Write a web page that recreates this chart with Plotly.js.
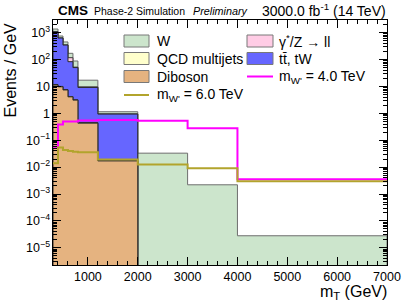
<!DOCTYPE html>
<html><head><meta charset="utf-8">
<script src="https://cdn.plot.ly/plotly-3.0.1.min.js"></script>
<style>html,body{margin:0;padding:0;background:#fff}#chart{width:407px;height:305px}</style>
</head><body><div id="chart"></div>
<script>
// ---- data (events / GeV per bin) ----
const binEdges = [300, 400, 500, 600, 700, 800, 1200, 2000, 3000, 4000, 7000];
const wJets    = [280, 115, 100, 53, 36, 7.4, 0.19, 0.033, 0.0022, 0.000028];
const dyZ      = [10, 5, 5, 34, 2, 0.5, 0.02, 0, 0, 0];
const qcd      = [0.5, 0.3, 0.2, 0.1, 0.1, 0.02, 0, 0, 0, 0];
const ttbar    = [1060, 620, 338, 79, 47, 8.7, 0.92, 0, 0, 0];
const diboson  = [11.3, 9.7, 7.4, 4.1, 3.1, 0.43, 0.017, 0, 0, 0];
const sigW4    = [0.057, 0.38, 0.50, 0.50, 0.50, 0.54, 0.56, 0.53, 0.28, 0.0035];
const sigW6    = [0.014, 0.054, 0.043, 0.040, 0.037, 0.036, 0.019, 0.0126, 0.0091, 0.0030];
const xTickVals = [1000, 2000, 3000, 4000, 5000, 6000, 7000];

// ---- styling ----
const FONT = 'Liberation Sans, Arial, Helvetica, sans-serif';
const Y_RANGE = [-5.64, 3.47];
const FLOOR = Math.pow(10, Y_RANGE[0] - 2);
const C = {
  w: 'rgb(204,229,204)', dy: 'rgb(255,204,229)', qcd: 'rgb(255,255,204)',
  tt: 'rgb(102,102,255)', dib: 'rgb(229,179,128)',
  s4: 'rgb(255,0,255)', s6: 'rgb(178,164,44)'
};

function add(a, b) { return a.map((v, i) => v + b[i]); }
const cDib = diboson.slice();
const cQcd = add(cDib, qcd);
const cTt = add(cQcd, ttbar);
const cDy = add(cTt, dyZ);
const cW = add(cDy, wJets);

function stepPolygon(vals) {
  const xs = [binEdges[0]], ys = [FLOOR];
  vals.forEach((v, i) => {
    const y = v > 0 ? v : FLOOR;
    xs.push(binEdges[i], binEdges[i + 1]);
    ys.push(y, y);
  });
  xs.push(binEdges[binEdges.length - 1]); ys.push(FLOOR);
  return { xs, ys };
}
function areaTrace(vals, fill, line) {
  const p = stepPolygon(vals);
  return { type: 'scatter', mode: 'lines', x: p.xs, y: p.ys, fill: 'toself',
    fillcolor: fill, line: { color: line, width: 1 }, hoverinfo: 'skip', showlegend: false };
}
function stepLine(vals, color) {
  return { type: 'scatter', mode: 'lines', x: binEdges, y: vals.concat([vals[vals.length - 1]]),
    line: { color: color, width: 2, shape: 'hv' }, hoverinfo: 'skip', showlegend: false };
}

const traces = [
  areaTrace(cW, C.w, 'rgb(110,110,110)'),
  areaTrace(cDy, C.dy, 'rgb(60,60,60)'),
  areaTrace(cTt, C.tt, 'rgb(40,40,40)'),
  areaTrace(cQcd, C.qcd, 'rgb(40,40,40)'),
  areaTrace(cDib, C.dib, 'rgb(40,40,40)'),
  stepLine(sigW4, C.s4),
  stepLine(sigW6, C.s6)
];

// ---- paper helpers (plot area 53..387 x 20..265 px) ----
const PL = 53, PT = 20, PW = 334, PH = 245;
const px = v => (v - PL) / PW;
const py = v => (PT + PH - v) / PH;

const legendItems = [
  { col: 0, row: 0, text: 'W', kind: 'box', color: C.w },
  { col: 1, row: 0, text: 'γ<sup>*</sup>/Z → ll', kind: 'box', color: C.dy },
  { col: 0, row: 1, text: 'QCD multijets', kind: 'box', color: C.qcd },
  { col: 1, row: 1, text: 't\u0074\u0304, tW', kind: 'box', color: C.tt },
  { col: 0, row: 2, text: 'Diboson', kind: 'box', color: C.dib },
  { col: 1, row: 2, text: 'm<sub>W\'</sub> = 4.0 TeV', kind: 'line', color: C.s4 },
  { col: 0, row: 3, text: 'm<sub>W\'</sub> = 6.0 TeV', kind: 'line', color: C.s6 }
];
const rowY = [41, 58.5, 76.5, 95];
const colSw = [[124, 149], [247, 273]];
const colTx = [155, 277];

const shapes = [], annotations = [];
legendItems.forEach(it => {
  const yc = rowY[it.row], sw = colSw[it.col];
  if (it.kind === 'box') {
    shapes.push({ type: 'rect', xref: 'paper', yref: 'paper', x0: px(sw[0]), x1: px(sw[1]),
      y0: py(yc + 6), y1: py(yc - 6), fillcolor: it.color, line: { color: 'rgb(120,120,120)', width: 1 } });
  } else {
    shapes.push({ type: 'line', xref: 'paper', yref: 'paper', x0: px(sw[0]), x1: px(sw[1]),
      y0: py(yc), y1: py(yc), line: { color: it.color, width: 2 } });
  }
  annotations.push({ xref: 'paper', yref: 'paper', x: px(colTx[it.col]), y: py(yc), xanchor: 'left', yanchor: 'middle',
    text: it.text, showarrow: false, font: { size: 14, family: FONT, color: 'black' } });
});

annotations.push(
  { xref: 'paper', yref: 'paper', x: px(56), y: py(10.5), xanchor: 'left', yanchor: 'middle', align: 'left', showarrow: false,
    text: '<b>CMS</b>', font: { size: 13.5, family: FONT, color: 'black' } },
  { xref: 'paper', yref: 'paper', x: px(92), y: py(11), xanchor: 'left', yanchor: 'middle', align: 'left', showarrow: false,
    text: 'Phase-2 Simulation', font: { size: 10.5, family: FONT, color: 'black' } },
  { xref: 'paper', yref: 'paper', x: px(191), y: py(11), xanchor: 'left', yanchor: 'middle', align: 'left', showarrow: false,
    text: '<i>Preliminary</i>', font: { size: 10.8, family: FONT, color: 'black' } },
  { xref: 'paper', yref: 'paper', x: px(388), y: py(10), xanchor: 'right', yanchor: 'middle', showarrow: false,
    text: '3000.0 fb<sup>-1</sup> (14 TeV)', font: { size: 14, family: FONT, color: 'black' } },
  { xref: 'paper', yref: 'paper', x: px(10), y: py(21), xanchor: 'center', yanchor: 'top', showarrow: false,
    textangle: -90, text: 'Events / GeV', font: { size: 16, family: FONT, color: 'black' } },
  { xref: 'paper', yref: 'paper', x: px(389), y: py(292), xanchor: 'right', yanchor: 'middle', showarrow: false,
    text: 'm<sub>T</sub> (GeV)', font: { size: 16, family: FONT, color: 'black' } }
);

const layout = {
  width: 407, height: 305,
  margin: { l: PL, r: 407 - PL - PW, t: PT, b: 305 - PT - PH, pad: 0 },
  paper_bgcolor: 'white', plot_bgcolor: 'white', showlegend: false,
  font: { family: FONT, color: 'black' },
  xaxis: {
    type: 'linear', range: [binEdges[0], binEdges[binEdges.length - 1]],
    tickmode: 'array', tickvals: xTickVals, ticktext: xTickVals.map(String),
    ticks: 'inside', ticklen: 8, tickwidth: 1, tickcolor: 'black',
    showline: true, linecolor: 'black', linewidth: 1, mirror: 'ticks',
    showgrid: false, zeroline: false, tickfont: { size: 12.5, family: FONT, color: 'black' },
    minor: { tick0: 0, dtick: 200, ticks: 'inside', ticklen: 4, tickwidth: 1, tickcolor: 'black', showgrid: false }
  },
  yaxis: {
    type: 'log', range: Y_RANGE, dtick: 1, exponentformat: 'power',
    ticks: 'inside', ticklen: 8, tickwidth: 1, tickcolor: 'black',
    showline: true, linecolor: 'black', linewidth: 1, mirror: 'ticks',
    showgrid: false, zeroline: false, tickfont: { size: 10, family: FONT, color: 'black' },
    minor: { dtick: 'D1', ticks: 'inside', ticklen: 4, tickwidth: 1, tickcolor: 'black', showgrid: false }
  },
  shapes: shapes, annotations: annotations
};

Plotly.newPlot('chart', traces, layout, { staticPlot: true, displayModeBar: false });
</script>
</body></html>
